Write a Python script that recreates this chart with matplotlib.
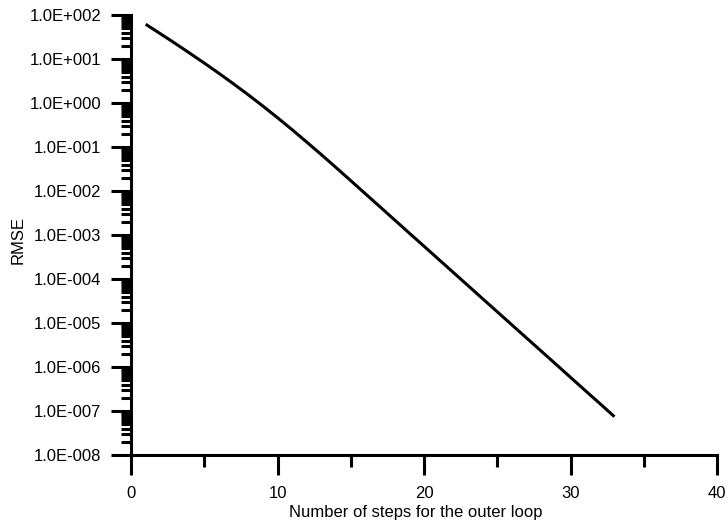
import matplotlib
matplotlib.use("Agg")
import matplotlib.pyplot as plt
from matplotlib.ticker import FixedLocator, FuncFormatter, LogLocator, MultipleLocator
import numpy as np

steps = list(range(1, 34))
rmse = [61.7, 37.6, 22.8, 13.6, 8.09, 4.73, 2.72, 1.54, 0.853, 0.463,
        0.247, 0.129, 0.0667, 0.0340, 0.0172, 8.65e-3, 4.36e-3, 2.19e-3, 1.10e-3,
        5.56e-4, 2.80e-4, 1.41e-4, 7.10e-5, 3.57e-5, 1.80e-5, 9.06e-6, 4.56e-6,
        2.30e-6, 1.16e-6, 5.82e-7, 2.93e-7, 1.48e-7, 7.43e-8]

x_ticks = [0, 10, 20, 30, 40]
y_exps = list(range(-8, 3))
x_label = "Number of steps for the outer loop"
y_label = "RMSE"

plt.rcParams['font.family'] = ['Liberation Sans', 'DejaVu Sans']
fig = plt.figure(figsize=(7.28, 5.25), dpi=100)
ax = fig.add_axes([131/728, 1 - 455/525, (717-131)/728, (455-15)/525])

ax.plot(steps, rmse, color='black', lw=2.2, solid_capstyle='butt', solid_joinstyle='round')
ax.set_yscale('log')
ax.set_xlim(0, 40)
ax.set_ylim(1e-8, 1e2)

for s in ['top', 'right']:
    ax.spines[s].set_visible(False)
for s in ['left', 'bottom']:
    ax.spines[s].set_linewidth(2.2)
    ax.spines[s].set_capstyle('projecting')

ax.xaxis.set_major_locator(FixedLocator(x_ticks))
ax.xaxis.set_minor_locator(MultipleLocator(5))
ax.yaxis.set_major_locator(FixedLocator([10.0**e for e in y_exps]))
ax.yaxis.set_minor_locator(LogLocator(base=10, subs=np.arange(2, 10), numticks=100))
ax.yaxis.set_major_formatter(FuncFormatter(lambda v, p: "1.0E{:+04d}".format(int(round(np.log10(v))))))
ax.yaxis.set_minor_formatter(FuncFormatter(lambda v, p: ""))

ax.tick_params(axis='both', which='major', direction='out', length=14.5, width=2.2,
               labelsize=12, colors='black')
ax.tick_params(axis='y', which='minor', direction='out', length=7.2, width=2.2)
ax.tick_params(axis='x', which='minor', direction='out', length=8.6, width=2.2)
ax.tick_params(axis='y', which='major', pad=7)
ax.tick_params(axis='x', which='major', pad=7.5)

ax.set_xlabel(x_label, fontsize=12)
ax.xaxis.set_label_coords((415.5-131)/586, (455-505)/440)
ax.set_ylabel(y_label, fontsize=12)
ax.yaxis.set_label_coords((26-131)/586, (455-240)/440)

fig.savefig("out.png", dpi=100)
